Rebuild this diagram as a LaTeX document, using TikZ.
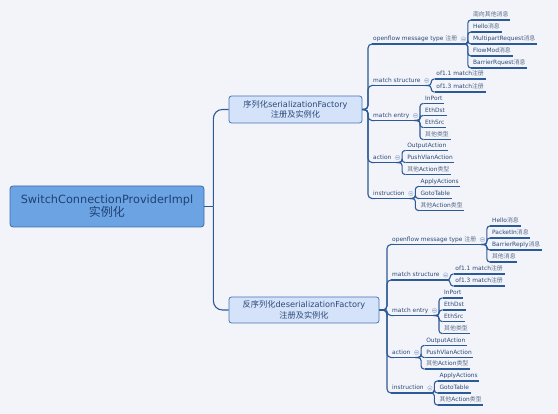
\documentclass[tikz,border=0pt]{standalone}
\usepackage{fontspec}
\setmainfont{DejaVu Sans}
\newfontfamily\cjk{Noto Sans CJK SC}
\usetikzlibrary{calc}
\definecolor{bgc}{HTML}{F3F4F9}
\definecolor{linec}{HTML}{2C5A96}
\definecolor{txt}{HTML}{2B4A78}
\definecolor{zhc}{HTML}{5A6E8C}
\definecolor{rootf}{HTML}{6CA3E2}
\definecolor{rootb}{HTML}{3D6CAE}
\definecolor{roottext}{HTML}{1E4275}
\definecolor{lonef}{HTML}{D4E2FA}
\definecolor{loneb}{HTML}{4774B4}
\definecolor{knobf}{HTML}{E2E9F4}
\definecolor{knobb}{HTML}{A8BAD3}
\newcommand\zhtxt[1]{{\cjk\color{zhc}#1}}
\newcommand\zhroot[1]{{\cjk #1}}
\newcommand\branchtwo[5]{%
  \node[ltwo] (#1) at (#3,#4) {#5\hspace*{7pt}};
  \draw[uline] (#1.south west) -- (#1.south east);
  \node[knob] (#1k) at ([xshift=-2.5pt,yshift=5pt]#1.south east) {};
  \draw[conn, rounded corners=4pt] (#2.east) -| ([xshift=-3.5pt]#1.south west) -- (#1.south west);
}
\newcommand\leafnode[4]{%
  \node[leaf] (#1) at ([xshift=5.5pt]#2.south east |- 0,#3) {#4};
  \draw[uline] (#1.south west) -- (#1.south east);
  \draw[conn] (#2.south east) -| ([xshift=-3.5pt]#1.south west) -- (#1.south west);
}
\begin{document}
\begin{tikzpicture}[x=1pt,y=-1pt,
  rootnode/.style={draw=rootb, fill=rootf, rounded corners=3pt, line width=0.8pt,
    minimum width=194pt, minimum height=41pt, align=center, text=roottext,
    font=\fontsize{11.3}{14}\selectfont, inner sep=0pt},
  lone/.style={draw=loneb, fill=lonef, rounded corners=2.5pt, line width=0.8pt,
    align=center, text=txt, font=\fontsize{8.2}{10.5}\selectfont, inner sep=0pt},
  ltwo/.style={anchor=south west, text=txt, font=\fontsize{5.9}{7}\selectfont,
    inner xsep=1.5pt, inner ysep=1.5pt, text height=4.6pt, text depth=1.6pt},
  leaf/.style={ltwo},
  conn/.style={draw=linec, line width=1.1pt, rounded corners=3pt},
  uline/.style={draw=linec, line width=1.1pt},
  knob/.style={circle, draw=knobb, fill=knobf, line width=0.4pt, minimum size=4.6pt, inner sep=0pt,
    path picture={\draw[knobb, line width=0.5pt] ([xshift=-1.3pt]path picture bounding box.center) -- ([xshift=1.3pt]path picture bounding box.center);}}
]
\fill[bgc] (0,0) rectangle (558,414);
\useasboundingbox (0,0) rectangle (558,414);

% root and first level
\node[rootnode] (root) at (107,206.5) {SwitchConnectionProviderImpl\\[-1pt]\zhroot{\fontsize{12}{14}\selectfont 实例化}};
\node[lone, minimum width=133pt, minimum height=27pt] (ser) at (295.5,109.5)
  {\zhroot{序列化}serializationFactory\\\zhroot{注册及实例化}};
\node[lone, minimum width=150pt, minimum height=26pt] (des) at (304,310)
  {\zhroot{反序列化}deserializationFactory\\\zhroot{注册及实例化}};
\coordinate (rj) at ([xshift=9pt]root.east);
\draw[conn] (root.east) -- (rj);
\draw[conn, rounded corners=9pt] (rj) |- (ser.west);
\draw[conn, rounded corners=9pt] (rj) |- (des.west);

% ---------- serialization branch ----------
\branchtwo{ofa}{ser}{371.5}{44}{openflow message type \zhtxt{注册}}
\branchtwo{msa}{ser}{371.5}{85.5}{match structure}
\branchtwo{mea}{ser}{371.5}{120.5}{match entry}
\branchtwo{aca}{ser}{371.5}{162.5}{action}
\branchtwo{ina}{ser}{371.5}{198.5}{instruction}

\leafnode{a1}{ofa}{20}{\zhtxt{南向其他消息}}
\leafnode{a2}{ofa}{32}{Hello\zhtxt{消息}}
\leafnode{a3}{ofa}{44}{MultipartRequest\zhtxt{消息}}
\leafnode{a4}{ofa}{56}{FlowMod\zhtxt{消息}}
\leafnode{a5}{ofa}{68}{BarrierRquest\zhtxt{消息}}

\leafnode{b1}{msa}{79}{of1.1 match\zhtxt{注册}}
\leafnode{b2}{msa}{92}{of1.3 match\zhtxt{注册}}

\leafnode{c1}{mea}{103.5}{InPort}
\leafnode{c2}{mea}{115.5}{EthDst}
\leafnode{c3}{mea}{127.5}{EthSrc}
\leafnode{c4}{mea}{139.5}{\zhtxt{其他类型}}

\leafnode{d1}{aca}{150.5}{OutputAction}
\leafnode{d2}{aca}{162.5}{PushVlanAction}
\leafnode{d3}{aca}{174.5}{\zhtxt{其他}Action\zhtxt{类型}}

\leafnode{e1}{ina}{186.5}{ApplyActions}
\leafnode{e2}{ina}{198.5}{GotoTable}
\leafnode{e3}{ina}{210.5}{\zhtxt{其他}Action\zhtxt{类型}}

% ---------- deserialization branch ----------
\branchtwo{ofb}{des}{390.5}{244.5}{openflow message type \zhtxt{注册}}
\branchtwo{msb}{des}{390.5}{280}{match structure}
\branchtwo{meb}{des}{390.5}{315.5}{match entry}
\branchtwo{acb}{des}{390.5}{357.5}{action}
\branchtwo{inb}{des}{390.5}{393}{instruction}

\leafnode{f1}{ofb}{226}{Hello\zhtxt{消息}}
\leafnode{f2}{ofb}{238}{PacketIn\zhtxt{消息}}
\leafnode{f3}{ofb}{250}{BarrierReply\zhtxt{消息}}
\leafnode{f4}{ofb}{262}{\zhtxt{其他消息}}

\leafnode{g1}{msb}{274}{of1.1 match\zhtxt{注册}}
\leafnode{g2}{msb}{286}{of1.3 match\zhtxt{注册}}

\leafnode{h1}{meb}{298}{InPort}
\leafnode{h2}{meb}{310}{EthDst}
\leafnode{h3}{meb}{321.5}{EthSrc}
\leafnode{h4}{meb}{333.5}{\zhtxt{其他类型}}

\leafnode{i1}{acb}{345.5}{OutputAction}
\leafnode{i2}{acb}{357.5}{PushVlanAction}
\leafnode{i3}{acb}{369}{\zhtxt{其他}Action\zhtxt{类型}}

\leafnode{j1}{inb}{381}{ApplyActions}
\leafnode{j2}{inb}{393}{GotoTable}
\leafnode{j3}{inb}{405}{\zhtxt{其他}Action\zhtxt{类型}}
\end{tikzpicture}
\end{document}
